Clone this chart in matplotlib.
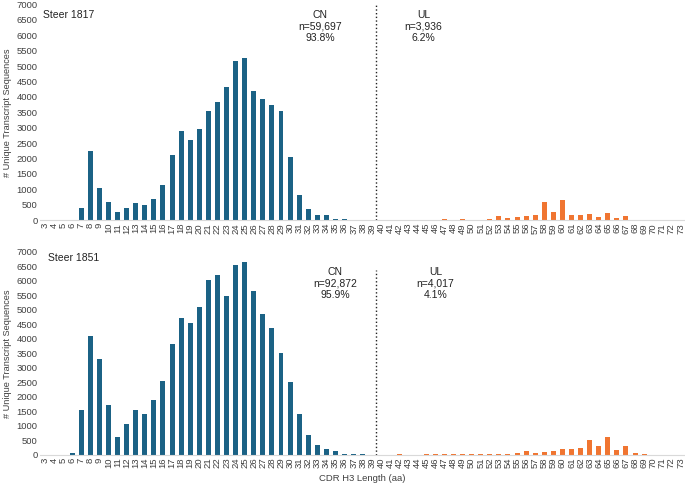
import matplotlib
matplotlib.use("Agg")
import matplotlib.pyplot as plt
import numpy as np

plt.rcParams['font.family'] = ['Liberation Sans', 'DejaVu Sans']

lengths = list(range(3, 74))

# Steer 1817, CN lengths 3-39 and UL lengths 40-73
cn_1817 = [0, 0, 0, 0, 380, 2250, 1050, 600, 270, 400, 550, 500, 700, 1150,
           2100, 2900, 2600, 2970, 3530, 3820, 4330, 5170, 5270, 4180, 3940,
           3740, 3540, 2050, 800, 350, 170, 160, 50, 25, 0, 0, 0]
ul_1817 = [0, 0, 20, 0, 0, 15, 15, 30, 20, 30, 20, 20, 30, 120, 65, 110, 140,
           175, 585, 260, 660, 175, 175, 205, 110, 240, 75, 140, 10, 10, 0, 0,
           0, 0]

# Steer 1851
cn_1851 = [0, 0, 0, 60, 1550, 4100, 3300, 1730, 600, 1080, 1530, 1410, 1900,
           2560, 3810, 4730, 4540, 5090, 6040, 6200, 5460, 6530, 6630, 5640,
           4850, 4380, 3520, 2510, 1420, 680, 350, 210, 120, 40, 40, 40, 0]
ul_1851 = [0, 0, 20, 0, 0, 20, 20, 20, 20, 35, 45, 35, 45, 35, 45, 60, 125,
           80, 100, 150, 195, 220, 230, 515, 310, 620, 170, 300, 70, 30, 0, 0,
           0, 0]

panels = [
    ("Steer 1817", cn_1817, ul_1817, "CN\nn=59,697\n93.8%", "UL\nn=3,936\n6.2%"),
    ("Steer 1851", cn_1851, ul_1851, "CN\nn=92,872\n95.9%", "UL\nn=4,017\n4.1%"),
]

blue = '#1b6285'
orange = '#f07531'

fig = plt.figure(figsize=(6.85, 4.86), dpi=100)
axes = [fig.add_axes([0.059, 0.547, 0.941, 0.444]),
        fig.add_axes([0.059, 0.064, 0.941, 0.418])]

x = np.arange(len(lengths))
ncn = len(cn_1817)

# label placement per panel: (name x, name y, CN x, UL x, text y, line top)
place = [(0.004, 0.975, 30.3, 41.7, 0.975, 1.0),
         (0.012, 0.995, 32.0, 43.0, 0.925, 0.91)]

for ax, (name, cn, ul, cn_txt, ul_txt), (nx, ny, cx, ux, ty, ltop) in zip(axes, panels, place):
    ax.bar(x[:ncn], cn, width=0.55, color=blue)
    ax.bar(x[ncn:], ul, width=0.55, color=orange)
    ax.set_xlim(-0.5, len(lengths) - 0.5)
    ax.set_ylim(0, 7000)
    ax.set_yticks(np.arange(0, 7001, 500))
    ax.set_xticks(x)
    ax.set_xticklabels([str(v) for v in lengths], rotation=90)
    ax.tick_params(axis='both', length=0, labelsize=6.8, colors='#404040', pad=2)
    for s in ['top', 'right', 'left']:
        ax.spines[s].set_visible(False)
    ax.spines['bottom'].set_color('#d9d9d9')
    ax.set_ylabel('# Unique Transcript Sequences', fontsize=6.6, color='#404040', labelpad=3)

    ax.axvline(ncn - 0.5, ymin=0, ymax=ltop, color='#222222', linestyle=':', linewidth=1)

    ax.text(nx, ny, name, transform=ax.transAxes,
            fontsize=7.5, ha='left', va='top', color='#222222')
    ax.text(cx, 7000 * ty, cn_txt, fontsize=7.5, ha='center', va='top',
            linespacing=1.2, color='#222222')
    ax.text(ux, 7000 * ty, ul_txt, fontsize=7.5, ha='center', va='top',
            linespacing=1.2, color='#222222')

axes[1].set_xlabel('CDR H3 Length (aa)', fontsize=6.8, color='#404040', labelpad=4)

plt.savefig('out.png', dpi=100)
plt.close()
